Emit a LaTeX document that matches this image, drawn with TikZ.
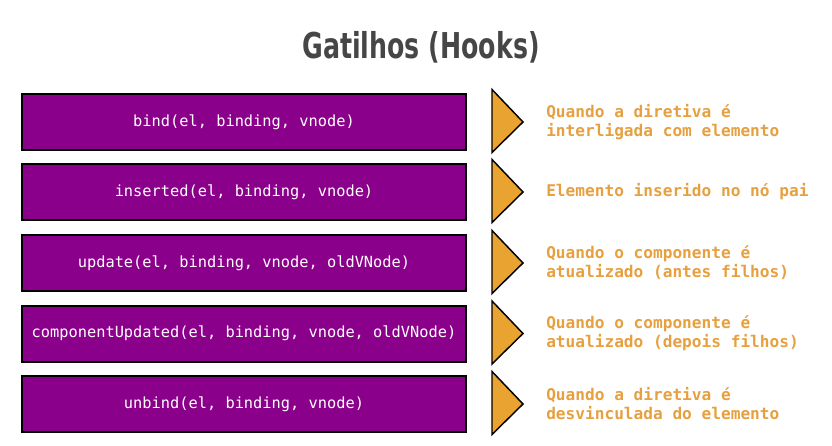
\documentclass[tikz,border=0pt]{standalone}
\usepackage{fontspec}
\usepackage{tikz}
\newfontfamily\hookmono{DejaVu Sans Mono}
\newfontfamily\hooktitle{DejaVu Sans Bold}

\definecolor{hookpurple}{RGB}{139,0,139}
\definecolor{hookorange}{RGB}{233,163,48}
\definecolor{hooktext}{RGB}{230,160,64}
\definecolor{hookgrey}{RGB}{70,70,70}

\tikzset{
  hookbox/.style={draw=black, line width=1.5pt, fill=hookpurple, minimum width=333pt, minimum height=42pt, inner sep=0pt, text=white, font=\hookmono\fontsize{11.5}{14}\selectfont},
  hookarrow/.style={draw=black, line width=1.1pt, line join=miter, fill=hookorange},
  hooknote/.style={anchor=west, inner sep=0pt, align=left, text=hooktext, font=\hookmono\bfseries\fontsize{12.1}{14.3}\selectfont},
}

\begin{document}
\begin{tikzpicture}[x=0.75pt,y=0.75pt,yscale=-1,xscale=1]
        \useasboundingbox (0,0) rectangle (832,446);

        % Title
        \node (title) at (421,47) [inner sep=0pt, text=hookgrey] {\scalebox{0.71}[1]{\hooktitle\fontsize{26.7}{30}\selectfont Gatilhos (Hooks)}};

        %Shape: Rectangle
        \node (bind) at (244,122) [hookbox] {bind(el, binding, vnode)};
        %Shape: Rectangle
        \node (inserted) at (244,192) [hookbox] {inserted(el, binding, vnode)};
        %Shape: Rectangle
        \node (update) at (244,263) [hookbox] {update(el, binding, vnode, oldVNode)};
        %Shape: Rectangle
        \node (compupd) at (244,333.5) [hookbox] {componentUpdated(el, binding, vnode, oldVNode)};
        %Shape: Rectangle
        \node (unbind) at (244,404) [hookbox] {unbind(el, binding, vnode)};

        %Shape: Triangle
        \draw [hookarrow] (492,89.5) -- (523,122) -- (492,152.5) -- cycle ;
        %Shape: Triangle
        \draw [hookarrow] (492,159.5) -- (523,192) -- (492,222.5) -- cycle ;
        %Shape: Triangle
        \draw [hookarrow] (492,230.5) -- (523,263) -- (492,293.5) -- cycle ;
        %Shape: Triangle
        \draw [hookarrow] (492,301) -- (523,333.5) -- (492,364) -- cycle ;
        %Shape: Triangle
        \draw [hookarrow] (492,371.5) -- (523,404) -- (492,434.5) -- cycle ;

        % Text Node
        \node (bindnote) at (546,122) [hooknote] {Quando a diretiva é\\interligada com elemento};
        % Text Node
        \node (insertednote) at (546,192) [hooknote] {Elemento inserido no nó pai};
        % Text Node
        \node (updatenote) at (546,263) [hooknote] {Quando o componente é\\atualizado (antes filhos)};
        % Text Node
        \node (compupdnote) at (546,333.5) [hooknote] {Quando o componente é\\atualizado (depois filhos)};
        % Text Node
        \node (unbindnote) at (546,404) [hooknote] {Quando a diretiva é\\desvinculada do elemento};

    \end{tikzpicture}
\end{document}
